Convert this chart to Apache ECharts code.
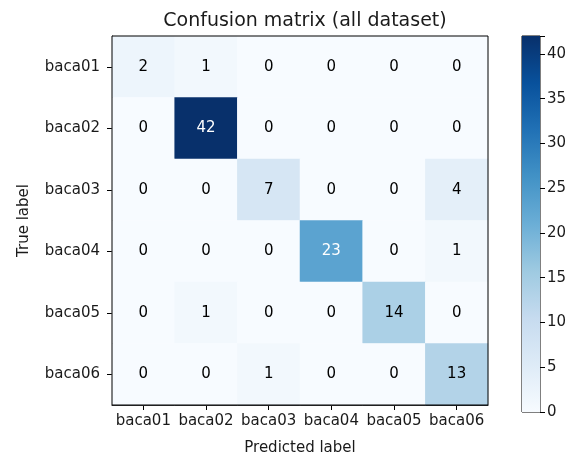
<!DOCTYPE html>
<html><head><meta charset="utf-8">
<script src="https://cdn.jsdelivr.net/npm/echarts@6/dist/echarts.min.js"></script>
<style>html,body{margin:0;padding:0;background:#fff}#c{width:573px;height:461px}</style>
</head><body><div id="c"></div>
<script>
const predicted = ['baca01','baca02','baca03','baca04','baca05','baca06'];
const trueLabels = ['baca01','baca02','baca03','baca04','baca05','baca06'];
const matrix = [
  [2, 1, 0, 0, 0, 0],
  [0, 42, 0, 0, 0, 0],
  [0, 0, 7, 0, 0, 4],
  [0, 0, 0, 23, 0, 1],
  [0, 1, 0, 0, 14, 0],
  [0, 0, 1, 0, 0, 13]
];
const colorbarTicks = [0, 5, 10, 15, 20, 25, 30, 35, 40];
const vmax = 42;
const blues = ['#f7fbff','#deebf7','#c6dbef','#9ecae1','#6baed6','#4292c6','#2171b5','#08519c','#08306b'];

const font = 'DejaVu Sans';
const txt = '#1a1a1a';
const data = [];
matrix.forEach((row, i) => row.forEach((v, j) => {
  data.push({value: [j, i, v], label: {color: v > vmax / 2 ? '#ffffff' : '#000000'}});
}));

const chart = echarts.init(document.getElementById('c'), null, {renderer: 'canvas'});
chart.setOption({
  animation: false,
  backgroundColor: '#fff',
  title: {text: 'Confusion matrix (all dataset)', left: 300, top: 7, textAlign: 'center',
    textStyle: {fontFamily: font, fontSize: 19, fontWeight: 'normal', color: txt}},
  grid: [
    {left: 112, top: 36, width: 376, height: 376, show: true, borderColor: '#000', borderWidth: 1, backgroundColor: 'transparent', z: 10},
    {left: 522, top: 36, width: 18, height: 376, show: true, borderColor: '#000', borderWidth: 1, backgroundColor: 'transparent'}
  ],
  xAxis: [
    {type: 'category', gridIndex: 0, data: predicted, name: 'Predicted label', nameLocation: 'middle', nameGap: 36,
      nameTextStyle: {fontFamily: font, fontSize: 15, color: txt},
      axisLine: {show: true, lineStyle: {color: '#000'}}, axisTick: {show: true, alignWithLabel: true, length: 5, lineStyle: {color: '#000'}},
      axisLabel: {fontFamily: font, fontSize: 15, color: txt, margin: 9, interval: 0}, splitArea: {show: false}},
    {type: 'category', gridIndex: 1, data: ['cb'], show: false}
  ],
  yAxis: [
    {type: 'category', gridIndex: 0, data: trueLabels, inverse: true, name: 'True label', nameLocation: 'middle', nameGap: 80,
      nameTextStyle: {fontFamily: font, fontSize: 15, color: txt},
      axisLine: {show: true, lineStyle: {color: '#000'}}, axisTick: {show: true, alignWithLabel: true, length: 5, lineStyle: {color: '#000'}},
      axisLabel: {fontFamily: font, fontSize: 15, color: txt, margin: 12}, splitArea: {show: false}},
    {type: 'value', gridIndex: 1, position: 'right', min: 0, max: vmax, interval: 5,
      axisLine: {show: false}, axisTick: {show: true, length: 5, lineStyle: {color: '#000'}},
      splitLine: {show: false},
      axisLabel: {fontFamily: font, fontSize: 15, color: txt, margin: 7,
        formatter: v => colorbarTicks.includes(v) ? String(v) : ''}}
  ],
  visualMap: {show: false, type: 'continuous', min: 0, max: vmax, seriesIndex: 0, inRange: {color: blues}},
  series: [
    {type: 'heatmap', xAxisIndex: 0, yAxisIndex: 0, data: data,
      label: {show: true, fontFamily: font, fontSize: 15, formatter: p => String(p.value[2])},
      itemStyle: {borderWidth: 0}, emphasis: {disabled: true}},
    {type: 'bar', xAxisIndex: 1, yAxisIndex: 1, data: [vmax], barWidth: '100%', silent: true,
      itemStyle: {color: new echarts.graphic.LinearGradient(0, 1, 0, 0,
        blues.map((c, k) => ({offset: k / (blues.length - 1), color: c})))}}
  ]
});
</script></body></html>
